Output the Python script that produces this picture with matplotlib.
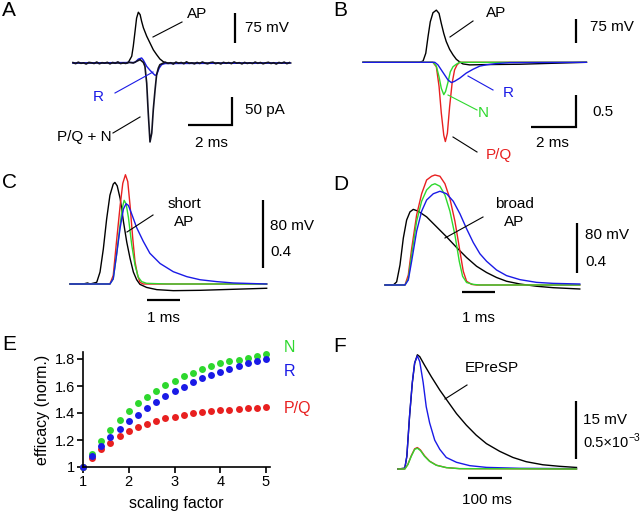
import numpy as np
import matplotlib
matplotlib.use("Agg")
import matplotlib.pyplot as plt
from matplotlib.lines import Line2D

plt.rcParams["font.family"] = ["Liberation Sans", "DejaVu Sans"]

W, H = 640, 512
BLUE = "#1a1ae6"
GREEN = "#2ed82e"
RED = "#e82020"

# ---- A: recorded AP (mV) and currents (pA), time in ms ----
a_t_ap = [0, 2.5, 2.67, 2.74, 2.82, 2.89, 2.97, 3.05, 3.12, 3.2, 3.35, 3.5, 3.65, 3.8, 3.95, 4.11, 4.26, 9.9]
a_v_ap = [0, 0, 17, 42, 79, 112, 127, 121, 104, 88, 67, 50, 33, 21, 10, 3, 0, 0]
a_pre_noise = [0.8, -1.2, 1.5, -0.6, 0.3, -1.8, 1.1, 0.4, -0.9, 1.7, -1.4, 0.6, -0.3, 1.2, -1.6, 0.9,
               -0.5, 1.9, -1.1, 0.2, -0.8, 1.4]
a_t_pqn = [2.74, 2.89, 3.05, 3.2, 3.27, 3.35, 3.42, 3.5, 3.58, 3.65, 3.73, 3.8, 3.88, 3.95, 4.11]
a_i_pqn = [0, 3, 6, 1, -6, -36, -89, -141, -125, -83, -48, -21, -9, -3, 0]
a_post_noise = [1.3, -0.7, 0.5, -1.9, 1.6, -0.4, 0.9, -1.3, 2.1, -0.6, 0.2, -1.5, 1.0, -0.9, 1.8, -0.2,
                -1.4, 0.7, 1.5, -1.1, 0.3, -1.7, 1.2, -0.5, 0.8, -1.2, 1.9, -0.3, 0.6, -1.6, 1.1, -0.8,
                0.4, -1.0, 1.7, -0.6, 0.9, -1.4, 0.2, 1.3, -0.9, 0.5, -1.8, 1.0, -0.4, 1.6, -1.2, 0.7]
a_t_r = [0, 2.82, 2.97, 3.12, 3.2, 3.35, 3.5, 3.65, 3.73, 3.8, 3.92, 4.03, 4.18, 9.86]
a_i_r = [0, 1, 7, 9, 5, -6, -13, -19, -22, -21, -9, -3, -1, 0]

# ---- B: simulated AP (mV) and normalized currents ----
b_t_ap = [0, 2.52, 2.67, 2.79, 2.89, 2.99, 3.11, 3.26, 3.38, 3.48, 3.59, 3.7, 3.85, 4.0, 4.15, 4.3,
          4.44, 4.74, 5.48, 6.96, 8.44, 9.93]
b_v_ap = [0, 0, 4, 28, 79, 125, 153, 161, 151, 120, 89, 64, 40, 23, 9, 1, -5, -8, -7, -6, -3, 0]
b_t_pq = [0, 3.11, 3.26, 3.38, 3.48, 3.59, 3.66, 3.75, 3.85, 3.96, 4.07, 4.18, 4.3, 9.93]
b_i_pq = [0, 0, -0.07, -0.38, -0.8, -1.15, -1.25, -1.12, -0.7, -0.33, -0.12, -0.04, 0, 0]
b_t_n = [0, 3.11, 3.26, 3.38, 3.48, 3.59, 3.67, 3.78, 3.88, 4.0, 4.15, 4.3, 9.93]
b_i_n = [0, 0, -0.06, -0.23, -0.41, -0.51, -0.46, -0.31, -0.15, -0.07, -0.03, 0, 0]
b_t_r = [0, 3.19, 3.33, 3.48, 3.63, 3.78, 3.93, 4.07, 4.3, 4.59, 4.89, 5.19, 5.48, 5.93, 6.52, 9.93]
b_i_r = [0, 0, -0.04, -0.12, -0.2, -0.28, -0.32, -0.3, -0.25, -0.17, -0.11, -0.06, -0.04, -0.02, -0.005, 0]

# ---- C: short AP ----
c_t_ap = [0, 0.4, 0.53, 0.61, 0.81, 0.91, 1.01, 1.11, 1.21, 1.31, 1.36, 1.43, 1.52, 1.62, 1.72, 1.82,
          1.92, 2.02, 2.12, 2.32, 2.63, 3.13, 3.94, 4.95, 5.96]
c_v_ap = [0, 0, 1.2, 0, 2, 14, 41, 76, 104, 117, 119, 115, 100, 73, 49, 30, 14, 5, -0.4, -4, -6.6,
          -7.8, -7.4, -6.2, -5]
c_t_pq = [0, 1.21, 1.31, 1.41, 1.52, 1.6, 1.68, 1.75, 1.82, 1.9, 1.97, 2.05, 2.12, 2.22, 5.96]
c_i_pq = [0, 0, 0.05, 0.25, 0.46, 0.59, 0.64, 0.6, 0.46, 0.27, 0.13, 0.05, 0.01, 0, 0]
c_t_n = [0, 1.21, 1.31, 1.41, 1.52, 1.58, 1.64, 1.7, 1.77, 1.87, 1.97, 2.07, 2.17, 2.32, 2.93, 5.96]
c_i_n = [0, 0, 0.03, 0.17, 0.35, 0.44, 0.49, 0.47, 0.39, 0.23, 0.11, 0.04, 0.014, 0.004, 0, 0]
c_t_r = [0, 1.21, 1.31, 1.41, 1.52, 1.62, 1.7, 1.77, 1.87, 2.02, 2.22, 2.42, 2.73, 3.13, 3.54, 3.94,
         4.44, 4.95, 5.96]
c_i_r = [0, 0, 0.03, 0.17, 0.33, 0.44, 0.47, 0.46, 0.41, 0.33, 0.25, 0.18, 0.12, 0.072, 0.043, 0.025,
         0.014, 0.006, 0]

# ---- D: broad AP ----
d_t_ap = [0, 0.25, 0.35, 0.45, 0.55, 0.65, 0.75, 0.85, 1.0, 1.25, 1.55, 1.85, 2.15, 2.45, 2.75, 3.05,
          3.35, 3.65, 4.05, 4.55, 5.05, 5.85]
d_v_ap = [0, 0, 5, 32, 75, 104, 117, 121, 118, 109, 93, 77, 60, 44, 30, 20, 12, 6, 1.6, -2, -4.3, -6.4]
d_t_pq = [0, 0.6, 0.7, 0.8, 0.95, 1.1, 1.25, 1.4, 1.5, 1.65, 1.8, 1.95, 2.1, 2.25, 2.35, 2.45, 2.6,
          2.75, 5.85]
d_i_pq = [0, 0, 0.08, 0.29, 0.56, 0.73, 0.84, 0.87, 0.88, 0.87, 0.81, 0.69, 0.51, 0.27, 0.11, 0.03,
          0.005, 0, 0]
d_t_n = [0, 0.6, 0.7, 0.8, 0.95, 1.1, 1.25, 1.4, 1.5, 1.65, 1.8, 1.95, 2.1, 2.23, 2.33, 2.45, 2.65,
         2.85, 5.85]
d_i_n = [0, 0, 0.05, 0.24, 0.51, 0.67, 0.76, 0.8, 0.81, 0.79, 0.72, 0.59, 0.4, 0.19, 0.07, 0.02,
         0.005, 0, 0]
d_t_r = [0, 0.6, 0.7, 0.8, 0.95, 1.1, 1.25, 1.45, 1.65, 1.85, 2.05, 2.25, 2.45, 2.65, 2.85, 3.05,
         3.35, 3.65, 4.05, 4.55, 5.05, 5.85]
d_i_r = [0, 0, 0.04, 0.19, 0.43, 0.59, 0.68, 0.73, 0.75, 0.73, 0.67, 0.57, 0.45, 0.34, 0.25, 0.19,
         0.12, 0.075, 0.043, 0.021, 0.013, 0.008]

# ---- E: efficacy vs scaling factor ----
e_scale = [1.0, 1.2, 1.4, 1.6, 1.8, 2.0, 2.2, 2.4, 2.6, 2.8, 3.0, 3.2, 3.4, 3.6, 3.8, 4.0, 4.2, 4.4,
           4.6, 4.8, 5.0]
e_pq = [1.0, 1.067, 1.132, 1.181, 1.229, 1.266, 1.296, 1.32, 1.343, 1.36, 1.373, 1.385, 1.398, 1.405,
        1.412, 1.42, 1.425, 1.43, 1.435, 1.44, 1.442]
e_n = [1.0, 1.099, 1.194, 1.273, 1.348, 1.415, 1.472, 1.522, 1.564, 1.604, 1.639, 1.671, 1.7, 1.725,
       1.75, 1.768, 1.783, 1.795, 1.81, 1.825, 1.837]
e_r = [1.0, 1.08, 1.154, 1.219, 1.28, 1.34, 1.388, 1.437, 1.482, 1.524, 1.561, 1.596, 1.628, 1.656,
       1.681, 1.706, 1.728, 1.748, 1.768, 1.785, 1.802]

# ---- F: EPreSP (mV) and release (x 1e-3) ----
f_t_sp = [0, 20, 26, 34, 42, 49, 57, 64, 78, 98, 123, 147, 172, 201, 230, 260, 299, 338, 377, 426, 475, 525]
f_v_sp = [0, 0.2, 3.3, 13.7, 22.3, 27.5, 29.7, 29.2, 27.0, 24.0, 20.5, 17.5, 14.4, 11.4, 8.8, 6.6, 4.6,
          3.0, 1.9, 1.1, 0.7, 0.4]
f_t_r = [0, 20, 26, 34, 42, 49, 57, 64, 74, 83, 93, 108, 123, 142, 172, 211, 260, 358, 525]
f_i_r = [0, 0.006, 0.11, 0.46, 0.75, 0.92, 0.98, 0.93, 0.75, 0.54, 0.4, 0.25, 0.17, 0.1, 0.058, 0.029,
         0.014, 0.006, 0.003]
f_t_n = [0, 20, 29, 39, 49, 57, 66, 78, 93, 113, 142, 181, 525]
f_i_n = [0, 0, 0.038, 0.11, 0.17, 0.18, 0.16, 0.11, 0.066, 0.032, 0.012, 0.003, 0]
f_i_pq = [0, 0, 0.04, 0.115, 0.175, 0.186, 0.165, 0.115, 0.068, 0.033, 0.012, 0.003, 0]


fig = plt.figure(figsize=(6.4, 5.12), dpi=100)


def trace_axes(box, m):
    """Invisible axes over a pixel box; m = (x0 px, baseline px, px per x, px per y)."""
    left, top, right, bottom = box
    x0, base, sx, sy = m
    ax = fig.add_axes([left / W, 1 - bottom / H, (right - left) / W, (bottom - top) / H])
    ax.set_xlim((left - x0) / sx, (right - x0) / sx)
    ax.set_ylim((base - bottom) / sy, (base - top) / sy)
    ax.axis("off")
    return ax


def at(m, px, py):
    x0, base, sx, sy = m
    return (px - x0) / sx, (base - py) / sy


def text(px, py, s, size=11, **kw):
    kw.setdefault("va", "center")
    return fig.text(px / W, 1 - py / H, s, fontsize=size, **kw)


def leader(p1, p2, color="k"):
    fig.add_artist(Line2D([p1[0] / W, p2[0] / W], [1 - p1[1] / H, 1 - p2[1] / H],
                          transform=fig.transFigure, color=color, lw=0.8))


def vbar(ax, m, px, py, length):
    bx, by = at(m, px, py)
    ax.plot([bx, bx], [by, by + length], color="k", lw=1.6, clip_on=False, solid_capstyle="butt")


def lbar(ax, m, px, py, xlen, ylen):
    bx, by = at(m, px, py)
    ax.plot([bx - xlen, bx, bx], [by, by, by + ylen], color="k", lw=1.6, clip_on=False,
            solid_capstyle="butt", solid_joinstyle="miter")


def hbar(ax, m, px, py, length):
    bx, by = at(m, px, py)
    ax.plot([bx, bx + length], [by, by], color="k", lw=1.6, clip_on=False, solid_capstyle="butt")


LW = 1.0

# Panel A
boxA = (60, 0, 320, 165)
mAv = (73, 63, 22, 30 / 75)
mAi = (73, 63, 22, 28 / 50)
axAv = trace_axes(boxA, mAv)
axAi = trace_axes(boxA, mAi)
pre_t = 0.12 * np.arange(len(a_pre_noise))
post_t = 4.2 + 0.12 * np.arange(len(a_post_noise))
axAi.plot(a_t_r, a_i_r, color=BLUE, lw=LW)
axAi.plot(np.concatenate([pre_t, a_t_pqn, post_t]),
          np.concatenate([a_pre_noise, a_i_pqn, a_post_noise]), color="#111122", lw=1.2)
axAv.plot(a_t_ap, a_v_ap, color="k", lw=LW)
vbar(axAv, mAv, 235, 43, 75)
lbar(axAi, mAi, 232, 125, 2, 50)
text(2, 10, "A", size=15)
text(197, 14, "AP", ha="center")
leader((182, 22), (153, 37))
text(245, 28, "75 mV")
text(98, 97, "R", color=BLUE, ha="center")
leader((115, 93), (153, 72), BLUE)
text(84, 137, "P/Q + N", ha="center")
leader((113, 133), (140, 117))
text(245, 110, "50 pA")
text(211, 143, "2 ms", ha="center")

# Panel B
boxB = (340, 0, 640, 165)
mBv = (363, 62.3, 22.5, 24.3 / 75)
mBi = (363, 62.3, 22.5, 31.7 / 0.5)
axBv = trace_axes(boxB, mBv)
axBi = trace_axes(boxB, mBi)
axBv.plot(b_t_ap, b_v_ap, color="k", lw=LW)
axBi.plot(b_t_pq, b_i_pq, color=RED, lw=LW)
axBi.plot(b_t_n, b_i_n, color=GREEN, lw=LW)
axBi.plot(b_t_r, b_i_r, color=BLUE, lw=LW)
vbar(axBv, mBv, 576, 43, 75)
lbar(axBi, mBi, 576, 127, 2, 0.5)
text(333, 10, "B", size=15)
text(496, 13, "AP", ha="center")
leader((473, 21), (450, 37))
text(590, 27, "75 mV")
text(508, 93, "R", color=BLUE, ha="center")
leader((493, 90), (468, 76), BLUE)
text(483, 113, "N", color=GREEN, ha="center")
leader((477, 110), (448, 95), GREEN)
text(499, 155, "P/Q", color=RED, ha="center")
leader((477, 152), (453, 137))
text(592, 112, "0.5")
text(552, 143, "2 ms", ha="center")

# Panel C
boxC = (60, 165, 320, 330)
mCv = (70, 284, 33, 68.3 / 80)
mCi = (70, 284, 33, 68.3 / 0.4)
axCv = trace_axes(boxC, mCv)
axCi = trace_axes(boxC, mCi)
axCv.plot(c_t_ap, c_v_ap, color="k", lw=LW)
axCi.plot(c_t_pq, c_i_pq, color=RED, lw=LW)
axCi.plot(c_t_n, c_i_n, color=GREEN, lw=LW)
axCi.plot(c_t_r, c_i_r, color=BLUE, lw=LW)
vbar(axCv, mCv, 263, 268, 80)
hbar(axCv, mCv, 147, 300, 1)
text(2, 183, "C", size=15)
text(184, 213, "short\nAP", ha="center", linespacing=1.4)
leader((153, 215), (127, 232))
text(270, 226, "80 mV")
text(270, 252, "0.4")
text(163, 318, "1 ms", ha="center")

# Panel D
boxD = (340, 165, 640, 330)
mDv = (385, 285, 33.3, 50 / 80)
mDi = (385, 285, 33.3, 50 / 0.4)
axDv = trace_axes(boxD, mDv)
axDi = trace_axes(boxD, mDi)
axDi.plot(d_t_pq, d_i_pq, color=RED, lw=LW)
axDi.plot(d_t_n, d_i_n, color=GREEN, lw=LW)
axDi.plot(d_t_r, d_i_r, color=BLUE, lw=LW)
axDv.plot(d_t_ap, d_v_ap, color="k", lw=LW)
vbar(axDv, mDv, 577, 273, 80)
hbar(axDv, mDv, 462, 292, 1)
text(333, 185, "D", size=15)
text(514, 213, "broad\nAP", ha="center", linespacing=1.4)
leader((483, 217), (445, 238))
text(585, 235, "80 mV")
text(585, 262, "0.4")
text(478, 318, "1 ms", ha="center")

# Panel E
axE = fig.add_axes([83 / W, 1 - 467 / H, (270 - 83) / W, (467 - 352) / H])
axE.plot(e_scale, e_pq, "o", color=RED, ms=5, mec="none", clip_on=False)
axE.plot(e_scale, e_n, "o", color=GREEN, ms=5, mec="none", clip_on=False)
axE.plot(e_scale, e_r, "o", color=BLUE, ms=5, mec="none", clip_on=False)
axE.set_xlim(1, 1 + (270 - 83) / 45.75)
axE.set_ylim(1, 1 + (467 - 352) / 135)
axE.set_xticks([1, 2, 3, 4, 5])
axE.set_xticklabels(["1", "2", "3", "4", "5"])
axE.set_yticks([1, 1.2, 1.4, 1.6, 1.8])
axE.set_yticklabels(["1", "1.2", "1.4", "1.6", "1.8"])
axE.spines[["top", "right"]].set_visible(False)
for s in ("left", "bottom"):
    axE.spines[s].set_linewidth(1.2)
axE.tick_params(direction="out", length=4, width=1.2, labelsize=10.5, pad=2)
axE.set_xlabel("scaling factor", fontsize=11.5, labelpad=5)
axE.set_ylabel("efficacy (norm.)", fontsize=11.5, labelpad=3)
text(2, 344, "E", size=15)
text(284, 348, "N", color=GREEN, size=11.5)
text(284, 372, "R", color=BLUE, size=11.5)
text(284, 408, "P/Q", color=RED, size=11.5)

# Panel F
boxF = (340, 330, 640, 512)
mFv = (398, 469, 0.34, 57.7 / 15)
mFi = (398, 469, 0.34, 57.7 / 0.5)
axFv = trace_axes(boxF, mFv)
axFi = trace_axes(boxF, mFi)
axFi.plot(f_t_r, f_i_r, color=BLUE, lw=LW, zorder=2)
axFv.plot(f_t_sp, f_v_sp, color="k", lw=LW)
axFi.plot(f_t_n, f_i_pq, color=RED, lw=LW)
axFi.plot(f_t_n, f_i_n, color=GREEN, lw=LW)
vbar(axFv, mFv, 576, 459, 15)
hbar(axFv, mFv, 468, 478, 100)
text(333, 347, "F", size=15)
text(492, 368, "EPreSP", ha="center")
leader((467, 385), (445, 399))
text(583, 420, "15 mV")
base_txt = text(583, 443, "0.5\u00d710", size=10.5)
axFv.annotate("\u22123", xy=(1.0, 0.85), xycoords=base_txt, fontsize=7.5, ha="left", va="center")
text(487, 500, "100 ms", ha="center")

fig.savefig("out.png", dpi=100)
